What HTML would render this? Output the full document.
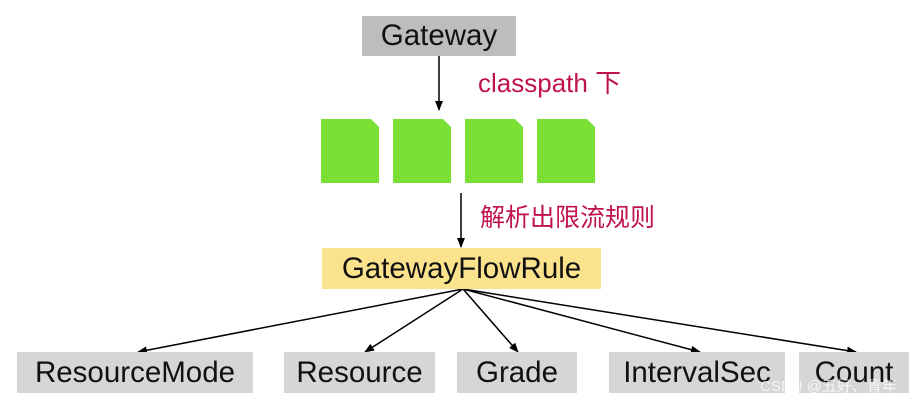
<!DOCTYPE html>
<html><head><meta charset="utf-8"><style>
body{margin:0;width:920px;height:401px;background:#fff;overflow:hidden;position:relative;font-family:"Liberation Sans","Noto Sans CJK SC",sans-serif}
.b{position:absolute;display:flex;align-items:center;justify-content:center;font-size:29.5px;color:#111;background:#d6d6d6;white-space:nowrap}
.r{position:absolute;color:#c0134a;white-space:nowrap;line-height:1}
</style></head><body>
<svg width="920" height="401" style="position:absolute;left:0;top:0">
<defs><marker id="a" markerWidth="10" markerHeight="10" refX="9" refY="5" orient="auto" markerUnits="userSpaceOnUse"><path d="M0,1 L10,5 L0,9 Z" fill="#000"/></marker></defs>
<g fill="#7ae036">
<path d="M321,119 H371 L379,127 V183 H321 Z"/>
<path d="M393,119 H443 L451,127 V183 H393 Z"/>
<path d="M465,119 H515 L523,127 V183 H465 Z"/>
<path d="M537,119 H587 L595,127 V183 H537 Z"/>
</g>
<g stroke="#000" stroke-width="1.5" marker-end="url(#a)">
<line x1="439" y1="56" x2="439" y2="110"/>
<line x1="461" y1="193" x2="461" y2="247"/>
<line x1="463" y1="289" x2="138" y2="352"/>
<line x1="463" y1="289" x2="365" y2="352"/>
<line x1="463" y1="289" x2="518" y2="352"/>
<line x1="463" y1="289" x2="700" y2="352"/>
<line x1="463" y1="289" x2="856" y2="352"/>
</g>
</svg>
<div class="b" style="left:362px;top:16px;width:154px;height:40px;background:#bdbdbd">Gateway</div>
<div class="r" style="left:478px;top:70px;font-size:26px">classpath 下</div>
<div class="r" style="left:480px;top:206px;font-size:25px">解析出限流规则</div>
<div class="b" style="left:322px;top:248px;width:279px;height:41px;background:#fbe38e">GatewayFlowRule</div>
<div class="b" style="left:17px;top:352px;width:236px;height:41px">ResourceMode</div>
<div class="b" style="left:284px;top:352px;width:151px;height:41px">Resource</div>
<div class="b" style="left:457px;top:352px;width:120px;height:41px">Grade</div>
<div class="b" style="left:609px;top:352px;width:176px;height:41px">IntervalSec</div>
<div class="b" style="left:799px;top:352px;width:110px;height:41px">Count</div>
<div style="position:absolute;left:760px;top:375px;font-size:15px;color:rgba(255,255,255,0.75);white-space:nowrap">CSDN @五好、青年</div>
</body></html>
